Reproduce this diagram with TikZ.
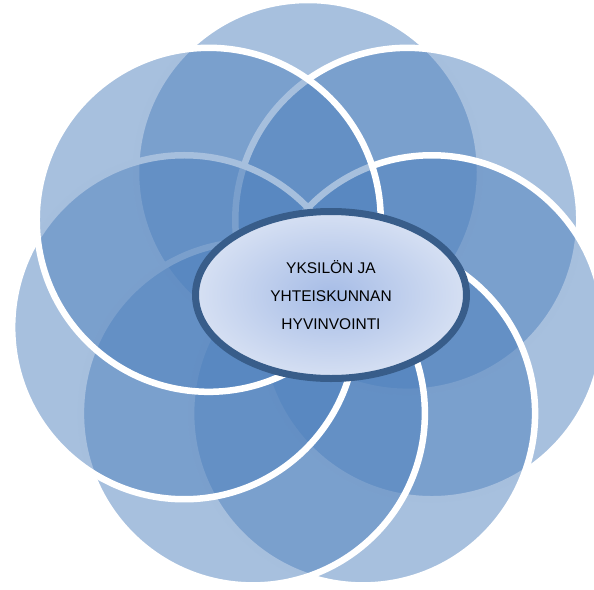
\documentclass[tikz,border=0pt]{standalone}
\usepackage{fontspec}
\setmainfont{Liberation Sans}
\usetikzlibrary{shapes}
\definecolor{petalblue}{RGB}{79,129,189}
\definecolor{rimblue}{RGB}{56,93,138}
\definecolor{hubin}{RGB}{166,188,230}
\definecolor{hubout}{RGB}{214,224,243}
\tikzset{petal/.style={fill=petalblue, fill opacity=0.5, draw=white, line width=6.5pt}}

\begin{document}
\begin{tikzpicture}[x=1pt,y=-1pt]
\useasboundingbox (0,0) rectangle (594,589);

% seven petals, clockwise from the top one
\foreach \k in {0,...,6}
{
\filldraw[petal] (308,299) ++(-90+51.43*\k:127) circle (172pt);
}

\node[ellipse, draw=rimblue, line width=7pt, inner color=hubin, outer color=hubout,
      minimum width=271pt, minimum height=167pt, inner sep=0pt, align=center,
      font=\fontsize{15.5pt}{28pt}\selectfont] (hub) at (331,295)
      {YKSILÖN JA\\YHTEISKUNNAN\\HYVINVOINTI};
\end{tikzpicture}
\end{document}
